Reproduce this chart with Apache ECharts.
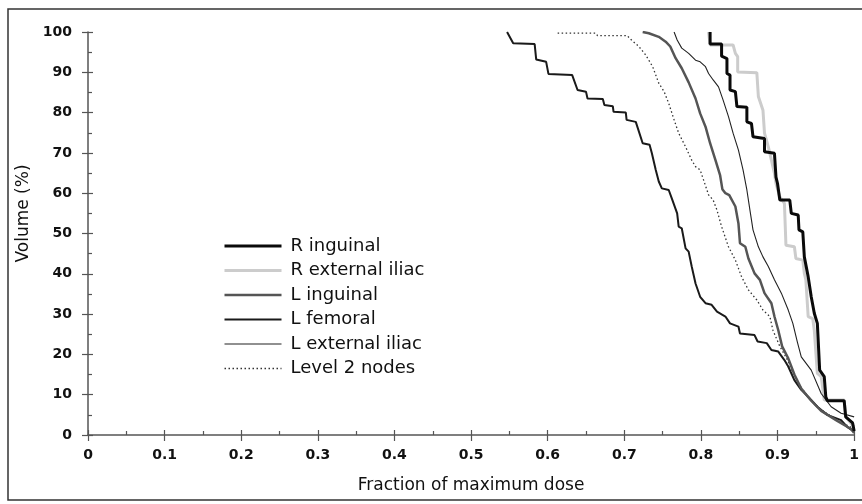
<!DOCTYPE html>
<html><head><meta charset="utf-8">
<script src="https://cdn.jsdelivr.net/npm/echarts@6/dist/echarts.min.js"></script>
<style>html,body{margin:0;padding:0;background:#fff}#c{width:862px;height:504px}</style>
</head><body><div id="c"></div>
<script>
const seriesNames = ['R inguinal', 'R external iliac', 'L inguinal', 'L femoral', 'L external iliac', 'Level 2 nodes'];
const xTickLabels = ['0','0.1','0.2','0.3','0.4','0.5','0.6','0.7','0.8','0.9','1'];
const yTickLabels = ['0','10','20','30','40','50','60','70','80','90','100'];

const rInguinal = [[0.812,100],[0.812,97],[0.827,97],[0.827,94],[0.834,93.4],[0.834,89.7],[0.838,89.3],[0.838,85.6],[0.845,85.2],[0.847,81.5],[0.860,81.3],[0.860,77.7],[0.866,77.3],[0.868,74],[0.883,73.6],[0.883,70.3],[0.896,69.9],[0.898,64],[0.900,62.4],[0.903,58.3],[0.916,58.3],[0.918,55],[0.927,54.6],[0.928,50.9],[0.933,50.4],[0.935,44.2],[0.940,39.3],[0.944,34.3],[0.948,30.2],[0.952,27.7],[0.955,16.1],[0.961,14.5],[0.963,9.5],[0.965,8.5],[0.987,8.5],[0.989,4.5],[0.998,3],[1.0,1]];
const rExtIliac = [[0.810,100],[0.812,96.8],[0.842,96.8],[0.845,94.7],[0.848,93.9],[0.848,90.1],[0.873,89.9],[0.875,84],[0.881,80.6],[0.883,74.9],[0.888,71.5],[0.892,68.2],[0.896,64.9],[0.898,62.4],[0.903,59.1],[0.909,57.5],[0.911,47.1],[0.922,46.7],[0.924,43.8],[0.933,43.4],[0.935,40.1],[0.937,38.5],[0.940,29.4],[0.946,28.9],[0.948,26],[0.952,15.3],[0.957,14.5],[0.961,8.7],[0.987,8.7],[0.989,4.5],[1.0,2]];
const lInguinal = [[0.724,100],[0.732,99.7],[0.745,98.8],[0.754,97.6],[0.760,96.4],[0.767,93.5],[0.775,91],[0.784,87.5],[0.793,83.5],[0.799,79.8],[0.806,76.5],[0.812,72.4],[0.819,68.2],[0.825,64.5],[0.828,61],[0.832,60],[0.837,59.5],[0.845,56.7],[0.849,52.5],[0.851,47.6],[0.858,46.7],[0.862,43.8],[0.870,40.1],[0.877,38.5],[0.883,35.2],[0.892,32.7],[0.896,29.4],[0.901,26],[0.906,22],[0.914,19],[0.922,15],[0.931,11.5],[0.944,8.5],[0.957,6],[0.978,3.5],[0.996,1.5],[1.0,0.5]];
const lFemoral = [[0.547,100],[0.555,97.2],[0.583,97],[0.585,93.2],[0.598,92.6],[0.601,89.6],[0.632,89.3],[0.639,85.6],[0.650,85.2],[0.652,83.5],[0.672,83.4],[0.674,81.9],[0.685,81.6],[0.686,80.2],[0.702,80],[0.703,78.2],[0.715,77.7],[0.724,72.4],[0.733,72],[0.736,69.9],[0.741,65.8],[0.745,62.9],[0.749,61.2],[0.758,60.8],[0.762,58.7],[0.769,55],[0.771,51.7],[0.775,51.3],[0.780,46.3],[0.784,45.5],[0.788,41.8],[0.793,37.6],[0.799,34.3],[0.806,32.7],[0.814,32.3],[0.821,30.6],[0.832,29.4],[0.838,27.7],[0.849,26.9],[0.851,25.2],[0.870,24.8],[0.874,23.2],[0.886,22.8],[0.892,21.1],[0.901,20.7],[0.909,18.6],[0.914,17],[0.922,13.6],[0.931,11.2],[0.940,9.5],[0.952,7],[0.965,5],[0.983,3.7],[0.991,2],[1.0,0.8]];
const lExtIliac = [[0.765,100],[0.769,98],[0.775,96],[0.784,94.7],[0.793,93],[0.799,92.6],[0.806,91.4],[0.810,89.7],[0.816,88.1],[0.823,86.4],[0.829,83.1],[0.836,79],[0.842,74.9],[0.849,70.7],[0.855,65.8],[0.860,60.8],[0.864,55.8],[0.868,50.9],[0.875,46.7],[0.881,44.2],[0.888,41.8],[0.896,38.5],[0.905,35.2],[0.914,31],[0.920,27.7],[0.926,23],[0.931,19.4],[0.944,16.1],[0.957,10.3],[0.970,7],[0.983,5.4],[1.0,4.5]];
const level2 = [[0.613,99.7],[0.663,99.7],[0.665,99.1],[0.704,99.1],[0.707,98.4],[0.719,96.4],[0.728,94.3],[0.737,91.4],[0.745,87.3],[0.752,85.2],[0.758,82.3],[0.765,78.2],[0.771,74.9],[0.780,71.5],[0.788,68.2],[0.793,66.6],[0.799,65.8],[0.810,59.6],[0.816,58.3],[0.821,55.8],[0.827,51.7],[0.836,46.7],[0.845,43.4],[0.853,39.3],[0.862,36],[0.873,33.5],[0.881,31],[0.890,29.4],[0.894,26],[0.903,22],[0.912,19],[0.920,15.5],[0.930,12],[0.942,9],[0.955,6.5],[0.975,4],[0.995,2],[1.0,1]];

const FONT = 'DejaVu Sans';
const axisColor = '#555';
const tickStyle = {color: axisColor, width: 1.2};

function mkSeries(name, data, color, width, type) {
  return {name, type: 'line', data, showSymbol: false, symbol: 'none', xAxisIndex: 0, yAxisIndex: 0,
    lineStyle: {color, width, type: type || 'solid'}, itemStyle: {color}, emphasis: {disabled: true}};
}

const chart = echarts.init(document.getElementById('c'), null, {renderer: 'canvas'});
chart.setOption({
  animation: false,
  backgroundColor: '#fff',
  grid: {left: 88, right: 2, top: 32, bottom: 69, containLabel: false},
  xAxis: [
    {type: 'value', min: 0, max: 1, interval: 0.1, position: 'bottom',
     axisLine: {onZero: false, lineStyle: {color: axisColor, width: 1.5}},
     axisTick: {show: true, length: 6, lineStyle: tickStyle},
     axisLabel: {margin: 13, fontFamily: FONT, fontWeight: 'bold', fontSize: 14, color: '#111',
       formatter: v => xTickLabels[Math.round(v * 10)]},
     splitLine: {show: false},
     name: 'Fraction of maximum dose', nameLocation: 'middle', nameGap: 42,
     nameTextStyle: {fontFamily: FONT, fontSize: 17, color: '#111'}},
    {type: 'value', min: 0, max: 1, interval: 0.1, position: 'bottom',
     axisLine: {show: false, onZero: false},
     axisTick: {show: true, inside: true, length: 5, lineStyle: tickStyle},
     minorTick: {show: true, splitNumber: 2, length: 4, lineStyle: tickStyle},
     axisLabel: {show: false}, splitLine: {show: false}}
  ],
  yAxis: [
    {type: 'value', min: 0, max: 100, interval: 10, position: 'left',
     axisLine: {show: true, onZero: false, lineStyle: {color: axisColor, width: 1.5}},
     axisTick: {show: true, length: 6, lineStyle: tickStyle},
     axisLabel: {margin: 16, fontFamily: FONT, fontWeight: 'bold', fontSize: 14, color: '#111',
       formatter: v => yTickLabels[Math.round(v / 10)]},
     splitLine: {show: false},
     name: 'Volume (%)', nameLocation: 'middle', nameGap: 47,
     nameTextStyle: {fontFamily: FONT, fontSize: 17, color: '#111', padding: [0, 0, 0, 40]}},
    {type: 'value', min: 0, max: 100, interval: 10, position: 'left',
     axisLine: {show: false, onZero: false},
     axisTick: {show: true, inside: true, length: 5, lineStyle: tickStyle},
     minorTick: {show: true, splitNumber: 2, length: 4, lineStyle: tickStyle},
     axisLabel: {show: false}, splitLine: {show: false}}
  ],
  legend: {
    orient: 'vertical', left: 218, top: 231, itemWidth: 57, itemHeight: 14, itemGap: 4.5,
    data: seriesNames,
    itemStyle: {color: 'rgba(0,0,0,0)', borderColor: 'rgba(0,0,0,0)', borderWidth: 0},
    lineStyle: {width: 'inherit'},
    textStyle: {fontFamily: FONT, fontSize: 18, lineHeight: 20, color: '#111', padding: [0, 0, 0, 4]},
    selectedMode: false
  },
  graphic: [{type: 'rect', silent: true, z: 100,
    shape: {x: 8, y: 9, width: 880, height: 491},
    style: {fill: 'none', stroke: '#333', lineWidth: 1.5}}],
  series: [
    mkSeries(seriesNames[1], rExtIliac, '#cccccc', 3),
    mkSeries(seriesNames[5], level2, '#333333', 1.3, [1.5, 2.5]),
    mkSeries(seriesNames[3], lFemoral, '#1a1a1a', 2),
    mkSeries(seriesNames[2], lInguinal, '#555555', 2.5),
    mkSeries(seriesNames[4], lExtIliac, '#222222', 1.1),
    mkSeries(seriesNames[0], rInguinal, '#0a0a0a', 3)
  ]
});
</script></body></html>
